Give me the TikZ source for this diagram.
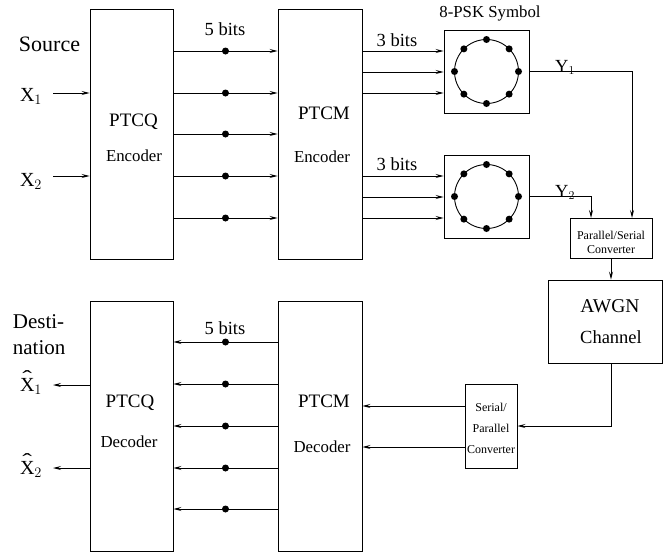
\documentclass[tikz,border=0pt]{standalone}
\usepackage{fontspec}
\setmainfont{Liberation Serif}
\setmathrm{Liberation Serif}
\usetikzlibrary{arrows.meta}
\tikzset{
  blk/.style={draw,line width=0.9pt,inner sep=0pt},
  bit/.style={circle,fill,inner sep=0pt,minimum size=7pt},
  sig/.style={line width=0.9pt,-{Stealth[length=8pt,width=4pt,inset=3pt]}},
  txt/.style={anchor=base,inner sep=0pt,font=\fontsize{18.5}{21}\selectfont},
  bigtxt/.style={txt,font=\fontsize{22}{24}\selectfont},
  midtxt/.style={txt,font=\fontsize{16.8}{18}\selectfont},
  smalltxt/.style={txt,font=\fontsize{12}{14}\selectfont}
}
\newcommand{\hatX}{\makebox[0pt][l]{\hspace{0.12em}\raisebox{0.32em}{\scalebox{1.45}[1]{\char"02C6}}}X}
\begin{document}
\begin{tikzpicture}[x=1pt,y=-1pt]
  \useasboundingbox (0,0) rectangle (663,552);
  % blocks
  \node[blk,minimum width=83pt,minimum height=250pt] (qenc) at (131.5,134) {};
  \node[blk,minimum width=84pt,minimum height=250pt] (menc) at (320,134) {};
  \node[blk,minimum width=85pt,minimum height=83pt] (psk1) at (486.5,71.5) {};
  \node[blk,minimum width=85pt,minimum height=83pt] (psk2) at (486.5,196.5) {};
  \node[blk,minimum width=82pt,minimum height=40pt] (ps) at (611,238) {};
  \node[blk,minimum width=114pt,minimum height=83pt] (awgn) at (605,321.5) {};
  \node[blk,minimum width=52pt,minimum height=84pt] (sp) at (491,426) {};
  \node[blk,minimum width=84pt,minimum height=250pt] (mdec) at (320,426.5) {};
  \node[blk,minimum width=83pt,minimum height=250pt] (qdec) at (131.5,426.5) {};
  % 8-PSK constellations
  \foreach \p in {psk1,psk2} {
    \draw[line width=0.9pt] (\p.center) circle[radius=32pt];
    \foreach \a in {0,45,...,315}
      \node[bit] (\p-\a) at ([shift={(\a:32pt)}]\p.center) {};
  }
  % transmitter
  \coordinate (x1in) at (53,93);
  \coordinate (x2in) at (53,176);
  \draw[sig] (x1in) -- (qenc.west |- x1in);
  \draw[sig] (x2in) -- (qenc.west |- x2in);
  \foreach \y in {51,93,134,176,218}
    \draw[sig] (qenc.east |- 0,\y) -- node[bit] (eb\y) {} (menc.west |- 0,\y);
  \foreach \y in {51,72,93}
    \draw[sig] (menc.east |- 0,\y) -- (psk1.west |- 0,\y);
  \foreach \y in {176,197,218}
    \draw[sig] (menc.east |- 0,\y) -- (psk2.west |- 0,\y);
  \coordinate (ps-a) at (632,218);
  \coordinate (ps-b) at (591,218);
  \draw[sig] (psk1.east) -| (ps-a);
  \draw[sig] (psk2.east) -| (ps-b);
  \draw[sig] (ps.south) -- (ps.south |- awgn.north);
  % receiver
  \draw[sig] (ps.south |- awgn.south) |- (sp.east);
  \foreach \y in {406,447}
    \draw[sig] (sp.west |- 0,\y) -- (mdec.east |- 0,\y);
  \foreach \y in {342,384,426,468,509}
    \draw[sig] (mdec.west |- 0,\y) -- node[bit] (db\y) {} (qdec.east |- 0,\y);
  \coordinate (x1out) at (53,385);
  \coordinate (x2out) at (53,468);
  \draw[sig] (qdec.west |- x1out) -- (x1out);
  \draw[sig] (qdec.west |- x2out) -- (x2out);
  % labels
  \node[bigtxt] (src) at (49.5,51.7) {Source};
  \node[txt,font=\fontsize{20}{22}\selectfont] (x1) at (31,101) {X$_1$};
  \node[txt,font=\fontsize{20}{22}\selectfont] (x2) at (31,186) {X$_2$};
  \node[txt,font=\fontsize{19}{21}\selectfont] (qenc-t) at (133.5,126) {PTCQ};
  \node[midtxt] (qenc-s) at (134,161) {Encoder};
  \node[txt] (eb-t) at (225,35.7) {5 bits};
  \node[txt,font=\fontsize{19}{21}\selectfont] (menc-t) at (324,119) {PTCM};
  \node[midtxt] (menc-s) at (322,162) {Encoder};
  \node[txt] (psk1-t) at (397,46) {3 bits};
  \node[txt] (psk2-t) at (397,170) {3 bits};
  \node[txt,font=\fontsize{16.8}{19}\selectfont] (psk-t) at (490,17.5) {8-PSK Symbol};
  \node[txt] (y1) at (565,72) {Y$_1$};
  \node[txt] (y2) at (565,197) {Y$_2$};
  \node[smalltxt] (ps-t) at (611,239) {Parallel/Serial};
  \node[smalltxt] (ps-s) at (611,253) {Converter};
  \node[txt,font=\fontsize{19.5}{21}\selectfont] (awgn-t) at (610,312) {AWGN};
  \node[txt] (awgn-s) at (611,343) {Channel};
  \node[smalltxt] (sp-t) at (491,411.7) {Serial/};
  \node[smalltxt] (sp-s) at (491,432) {Parallel};
  \node[smalltxt] (sp-u) at (491,453) {Converter};
  \node[bigtxt,anchor=base west,font=\fontsize{21}{24}\selectfont] (dst) at (12.7,328) {Desti-};
  \node[bigtxt,anchor=base west,font=\fontsize{21}{24}\selectfont] (dst-b) at (12.7,354) {nation};
  \node[txt,font=\fontsize{20}{22}\selectfont] (xh1) at (31,391) {\hatX$_1$};
  \node[txt,font=\fontsize{20}{22}\selectfont] (xh2) at (31,474) {\hatX$_2$};
  \node[txt,font=\fontsize{19}{21}\selectfont] (qdec-t) at (130,407) {PTCQ};
  \node[midtxt] (qdec-s) at (129,447) {Decoder};
  \node[txt] (db-t) at (225,334) {5 bits};
  \node[txt,font=\fontsize{19}{21}\selectfont] (mdec-t) at (324,407) {PTCM};
  \node[midtxt] (mdec-s) at (322,452) {Decoder};
\end{tikzpicture}
\end{document}
